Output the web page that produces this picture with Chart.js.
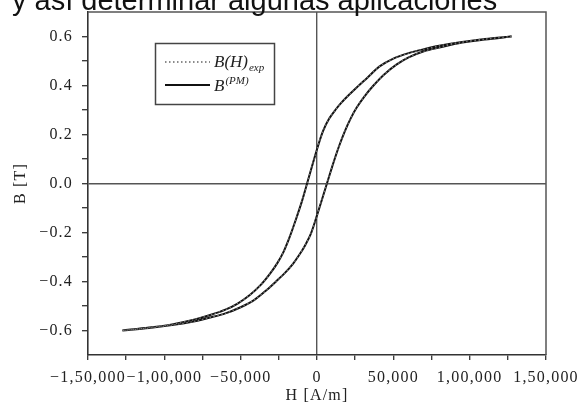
<!DOCTYPE html>
<html>
<head>
<meta charset="utf-8">
<script src="https://cdn.jsdelivr.net/npm/chart.js@4/dist/chart.umd.min.js"></script>
<style>
html, body { margin: 0; padding: 0; background: #fff; }
#wrap { position: relative; width: 577px; height: 411px; overflow: hidden; }
#caption { position: absolute; left: 12px; top: -16px; font-family: "Liberation Sans", Arial, sans-serif; font-size: 29px; color: #111; white-space: nowrap; z-index: 2; }
canvas { position: absolute; left: 0; top: 0; }
</style>
</head>
<body>
<div id="wrap">
  <div id="caption">y así determinar algunas aplicaciones</div>
  <canvas id="myChart" width="577" height="411"></canvas>
</div>
<script>
// descending branch of the loop (from +H max down to -H max)
const hUpper = [127500, 110000, 95000, 80000, 70000, 60000, 50000, 41000, 33000, 26000, 21000, 16000, 12000, 8000, 4000, 0, -6500, -10000, -14000, -18000, -22000, -26000, -31000, -37000, -44000, -52000, -60000, -70000, -80000, -95000, -110000, -127500];
const bUpper = [0.600, 0.590, 0.578, 0.562, 0.548, 0.532, 0.510, 0.478, 0.432, 0.392, 0.362, 0.330, 0.300, 0.265, 0.215, 0.140, 0.000, -0.075, -0.150, -0.220, -0.280, -0.325, -0.370, -0.415, -0.455, -0.490, -0.515, -0.537, -0.555, -0.575, -0.588, -0.600];

// ascending branch (from -H max back up to +H max)
const hLower = [-127500, -110000, -95000, -80000, -70000, -60000, -50000, -41000, -33000, -26000, -21000, -16000, -12000, -8000, -4000, 0, 6500, 10000, 14000, 18000, 22000, 26000, 31000, 37000, 44000, 52000, 60000, 70000, 80000, 95000, 110000, 127500];
const bLower = [-0.600, -0.590, -0.578, -0.562, -0.547, -0.530, -0.505, -0.475, -0.435, -0.395, -0.365, -0.330, -0.295, -0.255, -0.205, -0.130, 0.000, 0.070, 0.145, 0.210, 0.265, 0.310, 0.355, 0.400, 0.445, 0.485, 0.515, 0.540, 0.555, 0.575, 0.588, 0.600];

// axis ticks
const xTicks = [-150000, -100000, -50000, 0, 50000, 100000, 150000];
const xTickLabels = ['\u22121,50,000', '\u22121,00,000', '\u221250,000', '0', '50,000', '1,00,000', '1,50,000'];
const xMinorTicks = [-125000, -75000, -25000, 25000, 75000, 125000];
const yTicks = [-0.6, -0.4, -0.2, 0, 0.2, 0.4, 0.6];
const yTickLabels = ['\u22120.6', '\u22120.4', '\u22120.2', '0.0', '0.2', '0.4', '0.6'];
const yMinorTicks = [-0.5, -0.3, -0.1, 0.1, 0.3, 0.5];

const legendLabels = ['B(H)', 'exp', 'B', '(PM)'];

// build the loop points: descending branch then ascending branch
const loop = [];
hUpper.forEach((h, i) => loop.push({ x: h, y: bUpper[i] }));
hLower.forEach((h, i) => loop.push({ x: h, y: bLower[i] }));

const serif = '"Liberation Serif", "Times New Roman", serif';
const axisColor = '#333';

// spacing of tick labels like the original figure
const spacingPlugin = {
  id: 'spacing',
  beforeLayout(chart) { chart.ctx.letterSpacing = '1.2px'; },
  beforeDraw(chart) { chart.ctx.letterSpacing = '1.2px'; }
};

// box round the plot area and the legend inside it
const framePlugin = {
  id: 'frame',
  afterDraw(chart) {
    const ctx = chart.ctx;
    const a = chart.chartArea;
    ctx.save();
    ctx.letterSpacing = '0px';
    ctx.strokeStyle = '#555';
    ctx.lineWidth = 1.5;
    ctx.beginPath();
    ctx.moveTo(a.left, a.top);
    ctx.lineTo(a.right, a.top);
    ctx.lineTo(a.right, a.bottom);
    ctx.stroke();

    // legend box
    ctx.strokeStyle = '#444';
    ctx.lineWidth = 1.5;
    ctx.strokeRect(155.5, 43.5, 119, 61);

    ctx.lineWidth = 1.3;
    ctx.strokeStyle = '#666';
    ctx.setLineDash([1.5, 2.5]);
    ctx.beginPath();
    ctx.moveTo(165, 62);
    ctx.lineTo(210, 62);
    ctx.stroke();
    ctx.setLineDash([]);
    ctx.strokeStyle = '#111';
    ctx.lineWidth = 2;
    ctx.beginPath();
    ctx.moveTo(165, 85);
    ctx.lineTo(210, 85);
    ctx.stroke();

    ctx.fillStyle = '#222';
    ctx.textBaseline = 'alphabetic';
    ctx.font = 'italic 17px ' + serif;
    ctx.fillText(legendLabels[0], 214, 67);
    let w = ctx.measureText(legendLabels[0]).width;
    ctx.font = 'italic 11px ' + serif;
    ctx.fillText(legendLabels[1], 214 + w + 1, 71);
    ctx.font = 'italic 17px ' + serif;
    ctx.fillText(legendLabels[2], 214, 91);
    w = ctx.measureText(legendLabels[2]).width;
    ctx.font = 'italic 11px ' + serif;
    ctx.fillText(legendLabels[3], 214 + w + 1, 84);
    ctx.restore();
  }
};

const config = {
  type: 'scatter',
  data: {
    datasets: [{
      label: 'B(H)exp',
      data: loop,
      showLine: true,
      borderColor: '#777',
      borderWidth: 1.3,
      borderDash: [1.5, 2.5],
      pointRadius: 0,
      tension: 0.3,
      order: 0
    }, {
      label: 'B(PM)',
      data: loop,
      showLine: true,
      borderColor: '#111',
      borderWidth: 2,
      pointRadius: 0,
      tension: 0.3,
      order: 1
    }]
  },
  options: {
    responsive: false,
    animation: false,
    devicePixelRatio: 1,
    layout: { padding: { left: 0, top: 12, right: 31, bottom: 0 } },
    plugins: {
      legend: { display: false },
      tooltip: { enabled: false }
    },
    scales: {
      x: {
        type: 'linear',
        min: -150000,
        max: 150000,
        afterBuildTicks: s => { s.ticks = xTicks.concat(xMinorTicks).sort((a, b) => a - b).map(v => ({ value: v })); },
        afterFit: s => { s.height = 56; s.paddingLeft = 0; s.paddingRight = 0; },
        ticks: {
          autoSkip: false,
          maxRotation: 0,
          padding: 8,
          color: '#222',
          font: { family: serif, size: 16 },
          callback: v => { const i = xTicks.indexOf(v); return i >= 0 ? xTickLabels[i] : ''; }
        },
        grid: {
          color: c => (c.tick && c.tick.value === 0 ? '#555' : 'rgba(0,0,0,0)'),
          lineWidth: 1.4,
          tickColor: axisColor,
          tickLength: 5,
          tickWidth: 1.3
        },
        border: { display: true, color: axisColor, width: 1.6 },
        title: { display: true, text: 'H [A/m]', color: '#222', font: { family: serif, size: 16 }, padding: { top: 0, bottom: 6 } }
      },
      y: {
        type: 'linear',
        min: -0.7,
        max: 0.7,
        afterBuildTicks: s => { s.ticks = yTicks.concat(yMinorTicks).sort((a, b) => a - b).map(v => ({ value: v })); },
        afterFit: s => { s.width = 88; s.paddingTop = 0; s.paddingBottom = 0; },
        ticks: {
          autoSkip: false,
          padding: 9,
          color: '#222',
          font: { family: serif, size: 16 },
          callback: v => { const i = yTicks.findIndex(t => Math.abs(t - v) < 1e-9); return i >= 0 ? yTickLabels[i] : ''; }
        },
        grid: {
          color: c => (c.tick && Math.abs(c.tick.value) < 1e-9 ? '#555' : 'rgba(0,0,0,0)'),
          lineWidth: 1.4,
          tickColor: axisColor,
          tickLength: 6,
          tickWidth: 1.3
        },
        border: { display: true, color: axisColor, width: 1.6 },
        title: { display: true, text: 'B [T]', color: '#222', font: { family: serif, size: 16 }, padding: { top: 11, bottom: 0 } }
      }
    }
  },
  plugins: [spacingPlugin, framePlugin]
};

const ctx = document.getElementById('myChart').getContext('2d');
const myChart = new Chart(ctx, config);
</script>
</body>
</html>
